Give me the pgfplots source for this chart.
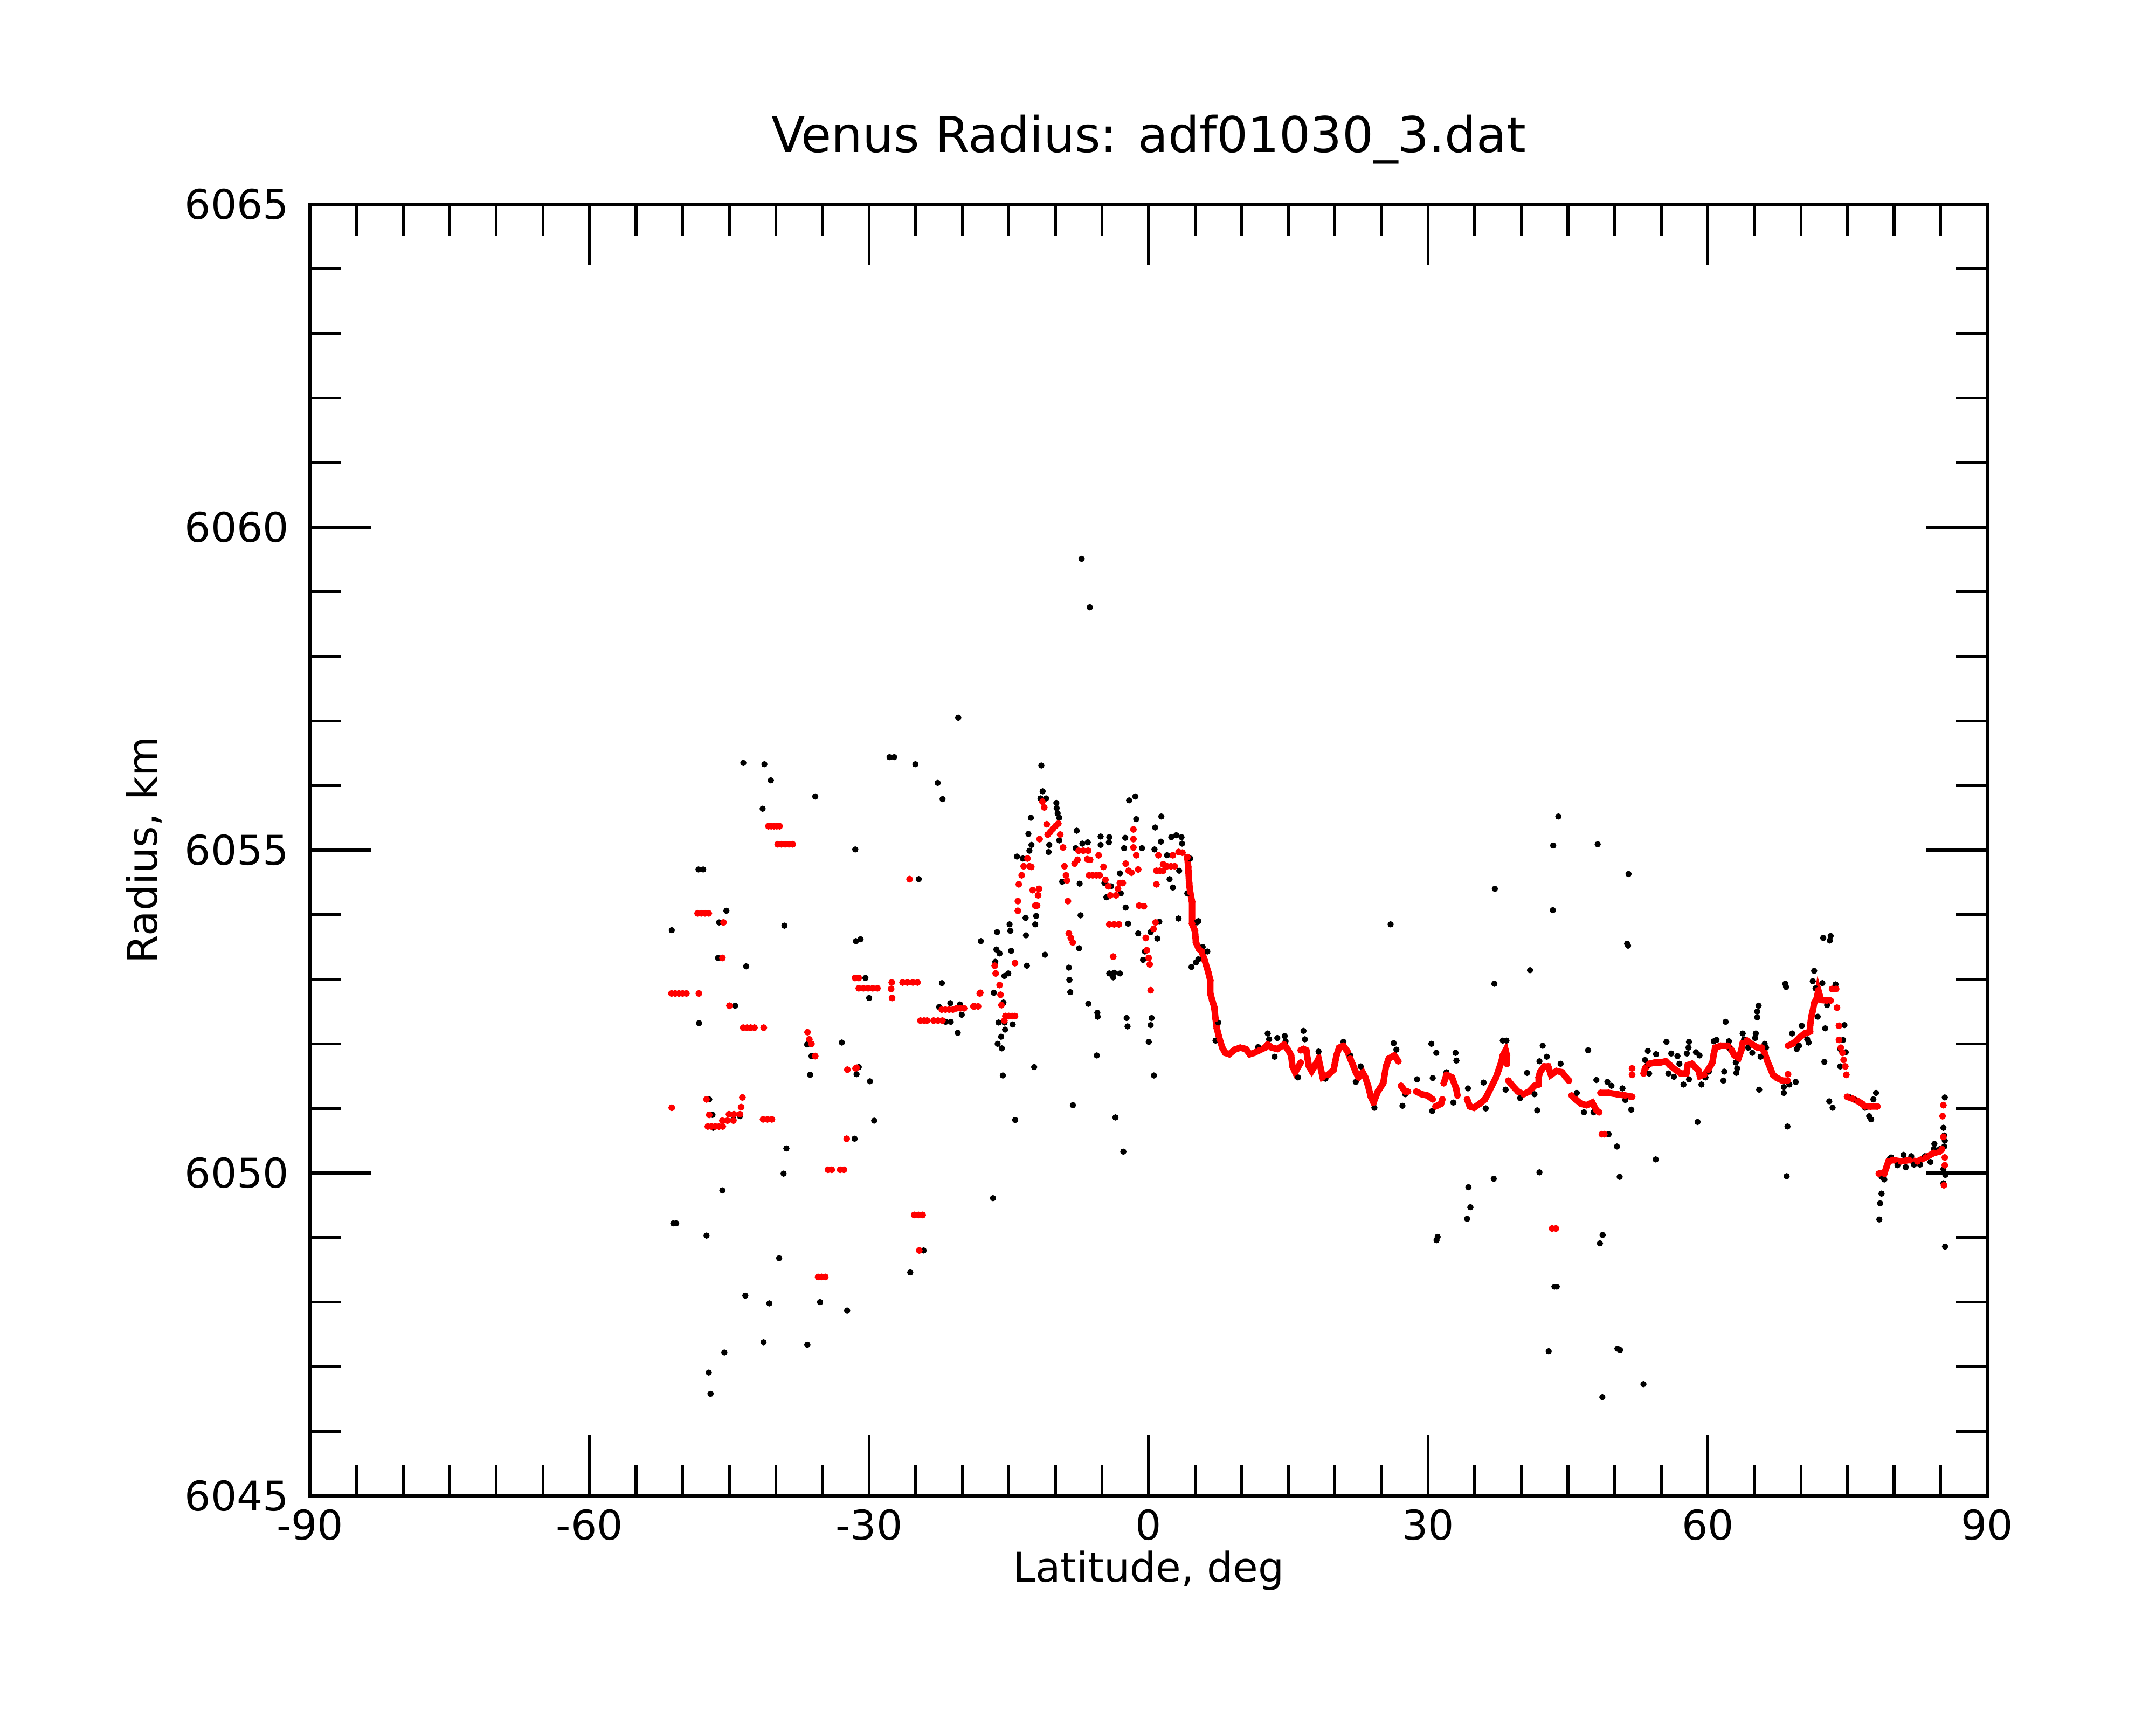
\documentclass[border=0pt]{standalone}
\usepackage{fontspec}
\setmainfont{DejaVu Sans}
\usepackage{pgfplots}
\pgfplotsset{compat=1.18}
\begin{document}
\begin{tikzpicture}
\path[use as bounding box] (0,0) rectangle (20cm,16cm);
\begin{axis}[
  at={(2.875cm,2.125cm)}, anchor=south west,
  scale only axis, width=15.56cm, height=11.98cm,
  xmin=-90, xmax=90, ymin=6045, ymax=6065,
  xtick={-90,-60,...,90}, ytick={6045,6050,...,6065},
  minor x tick num=5, minor y tick num=4,
  tick align=inside, tick pos=both,
  major tick length=0.565cm, minor tick length=0.29cm,
  axis line style={line width=0.8pt},
  tick style={line width=0.75pt, black},
  /pgf/number format/assume math mode=true,
  /pgf/number format/1000 sep={},
  tick label style={font=\fontsize{10.8}{13}\selectfont},
  yticklabel style={xshift=-2pt},
  label style={font=\fontsize{10.8}{13}\selectfont},
  xlabel={Latitude, deg}, ylabel={Radius, km},
  xlabel style={at={(axis description cs:0.5,-0.0664)}, anchor=base},
  ylabel style={at={(axis description cs:-0.0911,0.5)}, anchor=base},
  title={Venus Radius: adf01030\_3.dat},
  every axis title shift=0pt,
  title style={font=\fontsize{13}{16}\selectfont, at={(axis description cs:0.5,1.0401)}, anchor=base},
  unbounded coords=jump,
]
% black raw points
\addplot[only marks, mark=*, mark size=0.72pt, black, mark options={line width=0.2pt}] table {
x y
-43.49 6056.35
-41.23 6056.33
-40.54 6056.08
-35.78 6055.83
-41.42 6055.64
-27.8 6056.44
-27.3 6056.44
-25.03 6056.33
-22.63 6056.04
-22.11 6055.79
-20.43 6057.05
-31.48 6055.01
-48.3 6054.70
-47.8 6054.70
-45.31 6054.06
-46.09 6053.88
-51.17 6053.76
-39.08 6053.83
-46.21 6053.33
-43.19 6053.20
-31.41 6053.59
-30.91 6053.62
-24.66 6054.55
-30.39 6053.02
-29.99 6052.71
-22.18 6052.94
-18.0 6053.59
-22.48 6052.57
-21.78 6052.34
-21.23 6052.34
-20.48 6052.17
-20.05 6052.45
-21.28 6052.63
-20.24 6052.61
-48.24 6052.32
-44.37 6052.59
-32.92 6052.02
-36.32 6051.52
-36.18 6051.81
-36.65 6051.99
-31.34 6051.53
-31.10 6051.64
-29.90 6051.42
-29.45 6050.81
-47.15 6051.14
-46.80 6050.90
-46.73 6050.70
-44.56 6050.83
-43.85 6050.88
-31.55 6050.53
-38.87 6050.38
-39.17 6049.99
-45.74 6049.73
-51.0 6049.22
-50.7 6049.22
-47.44 6049.03
-39.65 6048.68
-24.14 6048.80
-25.58 6048.46
-43.28 6048.10
-40.70 6047.98
-35.26 6048.00
-32.35 6047.87
-41.32 6047.38
-36.62 6047.34
-45.53 6047.22
-47.20 6046.91
-47.01 6046.58
-7.19 6059.51
-6.31 6058.76
-11.51 6056.31
-11.37 6055.91
-11.6 6055.80
-11.0 6055.80
-9.90 6055.73
-9.86 6055.65
-9.76 6055.57
-9.59 6055.50
-12.63 6055.50
-12.90 6055.25
-12.57 6055.08
-12.79 6054.99
-14.13 6054.90
-13.50 6054.87
-16.26 6053.73
-14.92 6053.85
-14.84 6053.75
-16.34 6053.46
-15.99 6053.40
-16.45 6053.27
-14.75 6053.44
-13.20 6053.95
-13.16 6053.68
-12.07 6053.98
-12.17 6053.85
-13.06 6053.21
-11.12 6053.38
-16.61 6052.79
-15.48 6053.05
-15.06 6053.09
-15.58 6052.64
-15.27 6052.43
-15.46 6052.33
-14.59 6052.30
-16.10 6052.33
-15.40 6052.22
-15.83 6052.11
-16.20 6052.00
-15.75 6051.93
-15.64 6051.51
-12.28 6051.64
-14.32 6050.82
-16.70 6049.61
-10.66 6055.08
-10.73 6054.97
-9.59 6055.15
-7.71 6055.30
-7.83 6055.03
-7.11 6055.10
-6.53 6055.12
-5.15 6055.21
-4.22 6055.20
-5.15 6055.08
-4.26 6055.12
-2.51 6055.19
-2.63 6055.03
-2.09 6055.77
-1.43 6055.83
-1.33 6055.48
-0.71 6055.03
0.70 6055.35
1.36 6055.52
0.63 6055.01
1.32 6055.13
2.43 6055.20
2.97 6055.23
3.53 6055.20
3.59 6055.10
4.46 6054.87
1.98 6054.92
3.28 6054.68
2.25 6054.55
2.60 6054.42
3.21 6053.94
-7.40 6054.48
-7.30 6053.99
-9.28 6054.51
-7.46 6053.48
-8.56 6053.18
-8.50 6052.99
-8.41 6052.80
-4.74 6054.49
-4.53 6054.27
-4.03 6054.44
-3.08 6054.64
-2.98 6054.33
-2.46 6054.11
-2.20 6053.86
-1.12 6053.71
-0.60 6053.30
-0.40 6053.43
0.22 6053.73
1.15 6053.89
0.94 6053.63
-4.22 6053.09
-3.70 6053.10
-3.08 6053.09
-3.80 6053.03
-6.47 6052.62
-5.50 6052.48
-5.46 6052.42
-2.36 6052.40
-2.26 6052.27
0.02 6052.03
0.32 6052.40
0.22 6052.29
0.57 6051.51
-5.56 6051.82
-8.12 6051.05
-3.56 6050.86
-2.71 6050.33
4.60 6053.19
5.08 6053.26
5.34 6053.31
5.80 6053.50
6.30 6053.43
5.18 6053.88
5.34 6053.90
4.15 6054.33
7.18 6052.05
7.47 6052.33
12.78 6052.16
12.93 6052.07
13.81 6052.09
14.61 6052.12
14.70 6052.04
13.52 6051.80
11.75 6051.95
16.62 6052.20
16.77 6052.07
16.03 6051.48
18.24 6051.88
18.98 6051.46
20.90 6052.03
21.64 6051.82
22.23 6051.41
22.76 6051.65
24.23 6051.01
26.30 6052.01
26.59 6051.91
27.24 6051.04
27.54 6051.22
28.81 6051.45
30.34 6052.00
30.87 6051.86
30.43 6050.96
30.49 6051.47
31.96 6051.56
32.94 6051.86
33.03 6051.74
32.70 6051.09
34.27 6051.31
35.95 6051.40
36.18 6051.00
38.01 6052.05
38.40 6052.05
38.31 6051.29
39.87 6051.16
40.61 6051.55
41.41 6051.22
41.70 6050.97
42.29 6051.97
42.73 6051.80
41.94 6051.73
44.21 6051.69
45.95 6051.24
47.16 6051.90
48.05 6051.44
46.72 6050.94
47.75 6050.94
43.41 6055.07
48.19 6055.09
51.50 6054.63
37.16 6054.40
43.38 6054.07
25.97 6053.85
51.35 6053.55
51.45 6053.52
40.93 6053.14
37.10 6052.93
49.23 6051.41
49.67 6051.35
50.85 6051.31
51.15 6051.13
51.79 6050.98
50.26 6050.41
49.37 6050.60
50.55 6049.94
41.94 6050.01
37.04 6049.91
34.32 6049.78
34.53 6049.47
34.18 6049.29
31.02 6049.01
30.90 6048.96
48.72 6049.04
48.43 6048.91
43.97 6055.52
42.93 6047.24
43.55 6048.24
43.80 6048.24
48.69 6046.53
50.31 6047.28
50.60 6047.26
53.10 6046.73
58.91 6050.79
54.42 6050.21
53.57 6051.89
54.45 6051.84
53.27 6051.75
53.57 6051.67
53.71 6051.54
55.57 6052.03
56.08 6051.85
56.75 6051.81
56.96 6051.69
55.78 6051.54
56.37 6051.49
57.40 6051.37
57.99 6051.45
57.76 6051.85
57.93 6051.94
57.99 6052.03
58.73 6051.87
59.12 6051.82
59.32 6051.37
59.76 6051.48
60.12 6051.57
60.94 6052.06
60.65 6052.04
61.92 6052.34
61.77 6051.57
61.68 6051.43
62.27 6052.04
62.42 6051.92
62.86 6051.82
63.01 6051.71
63.16 6051.62
63.07 6051.55
63.75 6052.16
63.90 6052.07
64.34 6051.94
64.78 6051.86
65.16 6052.16
65.08 6052.09
65.31 6052.41
65.31 6052.50
65.46 6052.59
65.67 6051.80
66.11 6052.00
66.26 6051.94
65.52 6051.29
68.17 6051.24
68.17 6051.33
68.76 6051.37
69.44 6051.41
68.56 6050.72
68.47 6049.95
68.32 6052.93
68.41 6052.88
69.06 6052.16
69.56 6051.92
69.80 6051.97
70.09 6052.28
70.68 6052.07
70.83 6052.02
71.42 6053.13
71.27 6052.97
71.57 6052.86
72.30 6052.94
71.80 6052.42
72.39 6053.64
73.19 6053.67
73.10 6053.60
72.60 6052.24
72.81 6052.60
73.72 6052.92
72.51 6051.72
74.67 6052.29
74.52 6052.06
74.22 6051.92
74.81 6051.87
74.22 6051.65
73.04 6051.11
73.40 6051.01
75.11 6051.18
75.70 6051.14
76.88 6051.01
77.32 6050.88
77.53 6050.83
78.06 6051.24
77.77 6051.14
78.41 6049.28
78.50 6049.53
78.65 6049.68
78.95 6049.90
78.65 6049.94
79.54 6050.22
79.68 6050.24
80.36 6050.12
81.01 6050.28
81.25 6050.09
81.84 6050.26
82.13 6050.13
82.78 6050.13
83.31 6050.26
83.90 6050.17
84.32 6050.45
84.26 6050.37
85.29 6050.70
85.38 6050.58
85.44 6050.50
85.38 6050.41
85.29 6050.06
85.50 6049.97
85.29 6049.84
85.44 6051.17
85.47 6048.86
84.90 6050.37
};
% red isolated points
\addplot[only marks, mark=*, mark size=0.8pt, red, mark options={line width=0.2pt}] table {
x y
-51.2 6052.78
-50.8 6052.78
-50.4 6052.78
-50.0 6052.78
-49.6 6052.78
-48.26 6052.78
-48.4 6054.02
-48.0 6054.02
-47.6 6054.02
-47.2 6054.02
-45.62 6053.88
-45.74 6053.33
-44.98 6052.59
-43.5 6052.25
-43.1 6052.25
-42.7 6052.25
-42.3 6052.25
-41.3 6052.25
-40.8 6055.37
-40.5 6055.37
-40.2 6055.37
-39.9 6055.37
-39.6 6055.37
-39.8 6055.09
-39.4 6055.09
-39.0 6055.09
-38.6 6055.09
-38.2 6055.09
-36.6 6052.18
-36.41 6052.07
-36.18 6052.00
-35.78 6051.81
-32.33 6051.60
-31.45 6051.62
-31.34 6051.63
-31.5 6053.02
-31.1 6053.02
-31.1 6052.86
-30.6 6052.86
-30.1 6052.86
-29.6 6052.86
-29.1 6052.86
-27.56 6052.95
-27.63 6052.85
-27.53 6052.71
-26.4 6052.95
-25.9 6052.95
-25.3 6052.95
-24.8 6052.95
-25.65 6054.55
-24.49 6052.36
-24.1 6052.36
-23.78 6052.36
-23.07 6052.36
-22.6 6052.36
-22.13 6052.36
-22.2 6052.53
-21.8 6052.53
-21.4 6052.53
-21.0 6052.53
-20.6 6052.55
-20.2 6052.55
-19.8 6052.55
-18.8 6052.58
-18.3 6052.58
-18.12 6052.78
-51.17 6051.01
-47.44 6051.14
-47.15 6050.90
-47.3 6050.72
-46.9 6050.72
-46.5 6050.72
-46.1 6050.72
-45.7 6050.72
-45.74 6050.81
-45.2 6050.81
-44.56 6050.81
-45.03 6050.91
-44.5 6050.91
-43.85 6050.91
-43.73 6051.02
-43.59 6051.17
-41.37 6050.83
-40.9 6050.83
-40.43 6050.83
-32.4 6050.53
-34.4 6050.05
-34.0 6050.05
-33.1 6050.05
-32.7 6050.05
-25.15 6049.35
-24.7 6049.35
-24.25 6049.35
-24.61 6048.80
-35.47 6048.39
-35.1 6048.39
-34.7 6048.39
-18.68 6052.58
-18.06 6052.79
-16.51 6053.21
-16.41 6053.09
-15.99 6052.91
-15.89 6052.76
-15.79 6052.60
-15.37 6052.43
-15.0 6052.43
-14.65 6052.43
-14.34 6052.43
-15.48 6052.36
-14.34 6053.25
-14.03 6054.21
-14.03 6054.06
-13.93 6054.47
-13.62 6054.61
-13.41 6054.75
-13.00 6054.87
-12.79 6054.75
-12.59 6054.74
-12.44 6054.38
-11.76 6054.40
-11.86 6054.30
-12.17 6054.14
-11.97 6054.14
-11.70 6055.17
-11.40 6055.75
-11.20 6055.66
-10.93 6055.40
-10.83 6055.24
-10.55 6055.28
-10.27 6055.33
-10.0 6055.37
-9.69 6055.41
-9.49 6055.24
-9.18 6055.04
-9.03 6054.75
-8.87 6054.61
-8.76 6054.53
-8.66 6054.21
-8.56 6053.71
-8.35 6053.64
-8.14 6053.57
-7.94 6054.79
-7.63 6054.85
-7.52 6054.99
-7.0 6054.99
-6.49 6054.99
-6.59 6054.86
-6.28 6054.85
-6.39 6054.61
-6.0 6054.61
-5.6 6054.61
-5.25 6054.61
-5.36 6054.92
-4.84 6054.74
-4.63 6054.54
-4.32 6054.44
-4.12 6054.30
-3.50 6054.30
-3.29 6054.40
-3.08 6054.49
-2.77 6054.49
-4.22 6053.85
-3.7 6053.85
-3.19 6053.85
-3.80 6053.35
-2.46 6054.79
-2.15 6054.68
-1.84 6054.65
-1.63 6055.32
-1.63 6055.17
-1.63 6055.04
-1.33 6054.92
-1.12 6054.70
-1.02 6054.14
-0.50 6054.13
-0.30 6053.64
-0.19 6053.45
0.01 6053.33
0.12 6053.23
0.74 6053.88
0.53 6053.78
0.22 6052.83
0.84 6054.47
0.84 6054.68
1.2 6054.68
1.56 6054.68
1.05 6054.92
1.56 6054.78
1.98 6054.75
2.4 6054.75
2.8 6054.75
2.60 6054.92
3.22 6054.97
3.63 6054.96
4.15 6054.89
51.88 6051.62
51.88 6051.52
43.3 6049.14
43.7 6049.14
48.65 6050.60
48.9 6050.60
68.62 6051.53
73.87 6052.56
74.08 6052.28
74.08 6052.06
74.28 6051.94
74.46 6051.86
74.58 6051.75
74.76 6051.65
74.87 6051.52
85.29 6050.56
85.20 6050.88
85.29 6051.05
85.44 6050.24
85.44 6050.12
85.35 6049.81
};
% red continuous runs
\addplot[red, line width=1.7pt, mark=*, mark size=0.8pt, mark options={line width=0.2pt}] table {
x y
4.15 6054.89
4.25 6054.74
4.35 6054.49
4.46 6054.35
4.66 6054.20
4.66 6053.86
4.97 6053.75
5.08 6053.57
5.39 6053.47
5.70 6053.43
6.00 6053.30
6.42 6053.10
6.62 6052.98
6.62 6052.78
6.83 6052.67
7.04 6052.57
7.18 6052.39
7.32 6052.24
7.62 6052.07
7.91 6051.94
8.21 6051.86
8.65 6051.84
9.24 6051.91
9.83 6051.94
10.42 6051.92
10.86 6051.84
11.31 6051.86
11.90 6051.90
12.49 6051.94
12.78 6051.99
13.22 6051.94
13.81 6051.92
14.55 6051.99
14.99 6051.90
15.29 6051.82
15.44 6051.65
15.73 6051.56
16.32 6051.71
nan nan
16.32 6051.90
16.62 6051.92
16.92 6051.90
17.06 6051.77
17.21 6051.65
17.50 6051.58
17.95 6051.69
18.24 6051.77
18.68 6051.48
19.27 6051.52
19.86 6051.60
20.01 6051.71
20.16 6051.82
20.45 6051.94
20.90 6051.97
21.34 6051.88
21.64 6051.77
21.93 6051.67
22.23 6051.56
22.52 6051.48
22.96 6051.56
23.26 6051.48
23.55 6051.35
23.85 6051.18
24.14 6051.09
24.59 6051.26
25.18 6051.39
25.47 6051.65
25.77 6051.77
26.36 6051.82
26.80 6051.73
nan nan
27.09 6051.35
27.54 6051.26
27.83 6051.26
nan nan
28.72 6051.26
29.31 6051.22
29.90 6051.20
30.49 6051.14
nan nan
30.78 6051.03
31.37 6051.07
31.52 6051.14
nan nan
31.67 6051.39
31.96 6051.52
32.55 6051.48
33.00 6051.31
33.14 6051.20
nan nan
34.18 6051.14
34.47 6051.03
34.91 6051.01
35.50 6051.07
36.09 6051.14
36.39 6051.22
36.83 6051.35
37.28 6051.48
37.57 6051.60
37.87 6051.73
38.01 6051.82
38.31 6051.90
38.45 6051.82
38.45 6051.69
nan nan
38.60 6051.43
39.05 6051.35
39.64 6051.26
40.23 6051.22
40.82 6051.26
41.41 6051.35
41.85 6051.37
41.85 6051.48
42.00 6051.56
42.44 6051.65
42.88 6051.65
43.18 6051.52
43.77 6051.58
44.36 6051.56
44.80 6051.48
45.10 6051.43
nan nan
45.39 6051.20
45.83 6051.14
46.42 6051.07
47.01 6051.05
47.60 6051.09
48.05 6050.97
48.34 6050.94
nan nan
48.49 6051.24
49.37 6051.24
50.26 6051.22
51.14 6051.20
51.88 6051.18
nan nan
53.12 6051.54
53.27 6051.62
53.71 6051.69
54.30 6051.71
54.90 6051.71
55.48 6051.73
55.93 6051.67
56.52 6051.60
57.11 6051.54
57.70 6051.54
57.85 6051.67
58.29 6051.69
58.73 6051.63
59.03 6051.58
59.17 6051.50
59.62 6051.52
60.06 6051.60
60.50 6051.71
60.65 6051.84
60.80 6051.94
61.39 6051.97
62.13 6051.97
62.57 6051.90
62.86 6051.82
63.31 6051.78
63.60 6051.90
63.75 6052.01
64.19 6052.05
64.78 6051.99
65.37 6051.94
65.81 6051.94
66.11 6051.86
66.40 6051.73
66.70 6051.63
67.00 6051.52
67.44 6051.47
68.03 6051.43
68.56 6051.43
nan nan
68.62 6051.97
69.21 6052.01
69.80 6052.09
70.39 6052.16
70.98 6052.19
70.98 6052.28
71.13 6052.43
71.27 6052.51
71.42 6052.63
71.72 6052.71
71.86 6052.83
72.16 6052.68
72.75 6052.67
73.19 6052.67
nan nan
73.34 6052.85
73.78 6052.85
nan nan
74.96 6051.18
75.55 6051.15
76.14 6051.11
76.58 6051.07
76.88 6051.03
77.47 6051.03
78.21 6051.03
nan nan
78.36 6049.99
78.95 6049.99
79.18 6050.09
79.39 6050.18
79.83 6050.20
80.72 6050.18
81.60 6050.20
82.49 6050.18
83.37 6050.24
84.26 6050.31
84.85 6050.33
85.14 6050.37
};
\end{axis}
\end{tikzpicture}
\end{document}
